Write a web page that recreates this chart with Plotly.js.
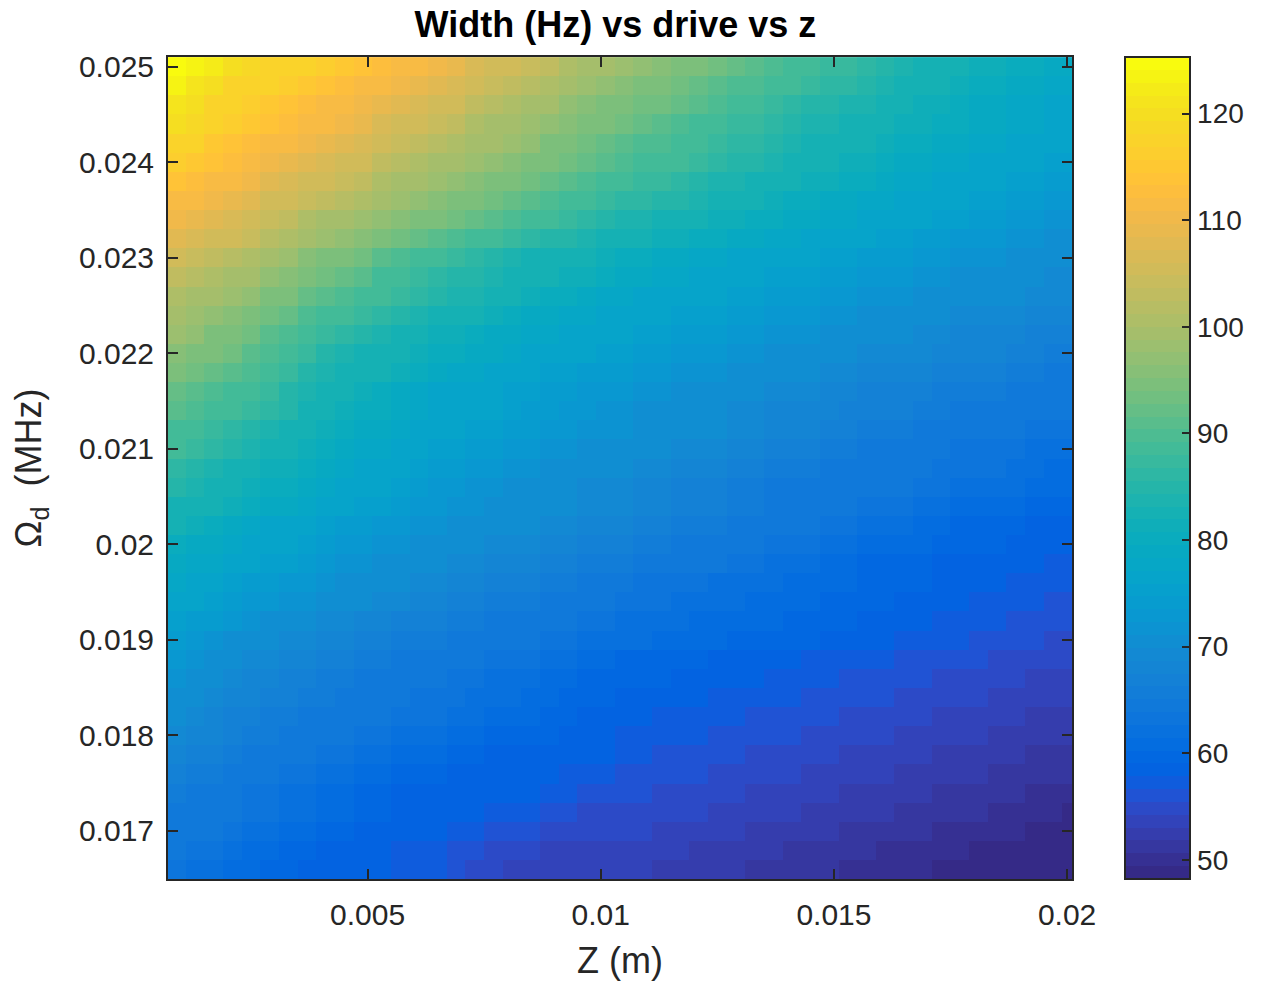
<!DOCTYPE html>
<html><head><meta charset="utf-8">
<script src="https://cdn.plot.ly/plotly-3.0.1.min.js"></script>
<style>html,body{margin:0;padding:0;background:#fff}#g{width:1264px;height:985px}</style>
</head><body><div id="g"></div>
<script>
const xTicks=[0.005,0.01,0.015,0.02];
const xLabels=['0.005','0.01','0.015','0.02'];
const yTicks=[0.017,0.018,0.019,0.02,0.021,0.022,0.023,0.024,0.025];
const yLabels=['0.017','0.018','0.019','0.02','0.021','0.022','0.023','0.024','0.025'];
const cTicks=[50,60,70,80,90,100,110,120];
const parula=[[0.2081,0.1663,0.5292],[0.2116,0.1898,0.5777],[0.2123,0.2138,0.6270],[0.2081,0.2386,0.6771],[0.1959,0.2645,0.7279],[0.1707,0.2919,0.7792],[0.1253,0.3242,0.8303],[0.0591,0.3598,0.8683],[0.0117,0.3875,0.8820],[0.0060,0.4086,0.8828],[0.0165,0.4266,0.8786],[0.0329,0.4430,0.8720],[0.0498,0.4586,0.8641],[0.0629,0.4737,0.8554],[0.0723,0.4887,0.8467],[0.0779,0.5040,0.8384],[0.0793,0.5200,0.8312],[0.0749,0.5375,0.8263],[0.0641,0.5570,0.8240],[0.0488,0.5772,0.8228],[0.0343,0.5966,0.8199],[0.0265,0.6137,0.8135],[0.0239,0.6287,0.8038],[0.0231,0.6418,0.7913],[0.0228,0.6535,0.7768],[0.0267,0.6642,0.7607],[0.0384,0.6743,0.7436],[0.0590,0.6838,0.7254],[0.0843,0.6928,0.7062],[0.1133,0.7015,0.6859],[0.1453,0.7098,0.6646],[0.1801,0.7177,0.6424],[0.2178,0.7250,0.6193],[0.2586,0.7317,0.5954],[0.3022,0.7376,0.5712],[0.3482,0.7424,0.5473],[0.3953,0.7459,0.5244],[0.4420,0.7481,0.5033],[0.4871,0.7491,0.4840],[0.5300,0.7491,0.4661],[0.5709,0.7485,0.4494],[0.6099,0.7473,0.4337],[0.6473,0.7456,0.4188],[0.6834,0.7435,0.4044],[0.7184,0.7411,0.3905],[0.7525,0.7384,0.3768],[0.7858,0.7356,0.3633],[0.8185,0.7327,0.3498],[0.8507,0.7299,0.3360],[0.8824,0.7274,0.3217],[0.9139,0.7258,0.3063],[0.9450,0.7261,0.2886],[0.9739,0.7314,0.2666],[0.9938,0.7455,0.2403],[0.9990,0.7653,0.2164],[0.9955,0.7861,0.1967],[0.9880,0.8066,0.1794],[0.9789,0.8271,0.1633],[0.9697,0.8481,0.1475],[0.9626,0.8705,0.1309],[0.9589,0.8949,0.1132],[0.9598,0.9218,0.0948],[0.9661,0.9514,0.0755],[0.9763,0.9831,0.0538]];
const widthHz=[
[125,123,122,120,119,118,118,117,116,115,114,113,112,111,110,109,107,106,105,104,103,101,100,99,98,97,96,95,94,93,92,91,90,89,88,87,87,86,85,84,83,83,82,81,81,80,80,79,79],
[123,121,120,118,118,117,116,115,114,113,112,111,110,109,108,107,105,104,103,102,101,99,98,97,96,95,94,93,92,91,90,90,89,88,87,86,86,85,84,83,82,82,81,80,80,79,79,78,78],
[121,120,118,117,116,115,114,113,112,111,110,109,108,107,106,105,103,102,101,100,99,97,96,95,94,93,93,92,91,90,89,88,87,86,85,85,84,84,83,82,81,81,80,79,79,78,78,77,77],
[120,119,117,116,115,114,113,112,111,110,109,107,106,105,104,103,101,100,99,98,97,96,95,94,93,92,91,90,89,88,87,87,86,85,84,84,83,83,82,81,81,80,80,79,79,78,78,77,77],
[118,117,115,114,113,112,111,110,109,108,107,105,104,103,102,101,100,99,98,97,95,94,93,92,91,90,90,89,88,87,86,86,85,84,83,83,82,82,81,80,80,79,79,78,78,77,77,76,76],
[116,115,114,113,112,110,109,108,107,106,105,103,102,101,100,99,98,97,96,95,94,93,92,91,90,89,89,88,87,86,85,85,84,83,82,82,81,81,80,79,79,78,78,77,77,76,76,75,75],
[114,113,112,111,110,108,107,106,105,104,103,101,100,99,98,97,96,95,94,93,92,91,90,89,88,87,87,86,85,84,84,83,83,82,81,81,80,80,79,78,78,77,77,76,76,75,75,74,74],
[112,111,110,109,108,106,105,104,103,102,101,99,98,97,96,95,94,93,92,91,90,89,88,87,86,86,85,85,84,83,82,82,81,80,80,79,79,78,78,77,77,76,76,75,75,74,74,73,73],
[110,109,108,107,106,104,103,101,100,99,98,97,96,95,94,93,92,91,90,89,88,87,86,85,84,84,83,83,82,81,81,80,80,79,79,78,78,77,77,76,76,75,75,74,74,73,73,72,72],
[108,107,106,105,104,102,101,99,98,97,96,94,93,92,91,90,89,88,87,86,85,85,84,83,82,82,81,81,80,80,79,79,78,78,77,77,76,76,75,75,74,74,73,73,73,72,72,71,71],
[105,104,103,102,101,99,98,96,95,94,93,91,90,89,88,87,86,85,84,83,83,82,82,81,80,80,79,79,78,78,77,77,76,76,76,75,75,74,74,74,73,73,72,72,72,71,71,70,70],
[103,102,101,100,99,97,96,94,93,92,91,89,88,87,86,85,85,84,83,82,82,81,81,80,79,79,78,78,77,77,76,76,75,75,75,74,74,73,73,73,72,72,71,71,71,70,70,69,69],
[101,100,99,98,97,95,94,92,91,90,89,88,87,86,85,84,84,83,82,81,80,80,79,78,78,77,77,76,76,76,75,75,74,74,74,73,73,72,72,72,71,71,70,70,70,70,69,69,69],
[99,98,97,96,95,93,92,90,89,88,87,86,85,84,83,82,82,81,80,79,79,78,78,77,77,76,76,75,75,75,74,74,73,73,73,72,72,71,71,71,70,70,69,69,69,69,68,68,68],
[98,97,95,94,93,91,90,88,87,86,85,84,83,82,81,81,80,79,79,78,78,77,77,76,76,75,75,74,74,74,73,73,72,72,72,71,71,70,70,70,69,69,68,68,68,68,67,67,67],
[96,95,94,93,91,90,88,87,85,84,83,83,82,81,80,80,79,79,78,77,77,76,76,75,75,74,74,73,73,73,72,72,71,71,71,70,70,69,69,69,69,68,68,68,68,67,67,66,66],
[94,93,92,91,90,88,87,85,84,83,82,82,81,80,79,78,78,77,76,76,75,75,74,74,74,73,73,72,72,72,71,71,70,70,70,69,69,68,68,68,68,67,67,67,67,66,66,65,65],
[92,91,90,89,88,87,85,84,83,82,81,80,79,78,77,77,76,76,75,75,74,74,73,73,73,72,72,71,71,71,70,70,69,69,69,68,68,67,67,67,67,66,66,66,66,65,65,64,64],
[91,90,89,88,87,86,85,83,82,81,80,80,79,78,77,77,76,76,75,74,74,73,73,72,72,71,71,70,70,70,69,69,68,68,68,68,67,67,67,67,66,66,65,65,65,65,64,64,64],
[89,88,87,86,85,84,83,82,81,80,79,79,78,77,76,76,75,75,74,74,73,73,72,72,72,71,71,70,70,70,69,69,68,68,68,67,67,66,66,66,65,65,64,64,64,64,63,63,63],
[88,87,86,85,84,83,82,81,80,79,78,78,77,76,75,75,74,74,73,73,72,72,71,71,71,70,70,69,69,69,68,68,67,67,67,66,66,65,65,65,64,64,63,63,63,63,62,62,62],
[86,85,84,83,82,81,81,80,79,78,77,77,76,75,74,74,73,73,72,72,71,71,70,70,70,69,69,68,68,68,67,67,66,66,66,65,65,64,64,64,64,63,63,63,63,62,62,61,61],
[85,84,83,82,81,80,80,79,78,77,76,76,75,74,73,73,72,72,71,71,70,70,69,69,69,68,68,67,67,67,66,66,65,65,65,65,64,64,64,64,63,63,62,62,62,62,61,61,61],
[83,82,82,81,80,79,79,78,77,76,75,75,74,73,73,72,72,71,71,71,70,70,69,69,69,68,68,67,67,67,66,66,65,65,65,64,64,63,63,63,62,62,61,61,61,61,60,60,60],
[82,81,80,79,78,77,77,76,75,74,74,73,73,72,72,71,71,70,70,70,69,69,68,68,68,67,67,66,66,66,65,65,64,64,64,63,63,62,62,62,61,61,60,60,60,60,59,59,59],
[80,79,79,78,77,76,76,75,74,73,73,72,72,71,71,70,70,69,69,69,68,68,67,67,67,66,66,65,65,65,64,64,63,63,63,62,62,61,61,61,61,60,60,60,60,59,59,58,58],
[79,78,78,77,76,75,75,74,73,72,72,71,71,70,70,69,69,68,68,68,67,67,66,66,66,65,65,64,64,64,63,63,62,62,62,61,61,60,60,60,60,59,59,59,59,58,58,57,57],
[78,77,76,75,74,74,73,73,72,71,71,70,70,69,69,68,68,67,67,67,66,66,65,65,64.0,63.7,63.4,63.1,62.8,62.5,62.2,61.9,61.6,61.3,61.0,60.7,60.4,60.1,59.8,59.5,59.2,58.9,58.6,58.3,58.0,57.7,57.4,57.1,56.8],
[77,76,75,74,73,73,72,72,71,70,70,69,69,68,68,67,67,66,66,66,65,65,64,64,63.3,63.0,62.7,62.4,62.1,61.8,61.5,61.2,61.0,60.7,60.4,60.1,59.8,59.5,59.2,58.9,58.6,58.3,58.0,57.7,57.4,57.1,56.8,56.5,56.2],
[75,74,74,73,72,71,71,70,69,69,68,68,67,67,67,66,66,65,65,65,64,64,63,63,62.6,62.3,62.0,61.7,61.4,61.1,60.8,60.6,60.3,60.0,59.7,59.4,59.1,58.8,58.5,58.2,57.9,57.6,57.3,57.0,56.7,56.5,56.2,55.9,55.6],
[74,73,72,71,70,70,69,69,68,68,67,67,66,66,66,65,65,64,64,64,63,63,62,62,62.0,61.7,61.4,61.1,60.8,60.5,60.2,59.9,59.6,59.4,59.1,58.8,58.5,58.2,57.9,57.6,57.3,57.0,56.7,56.4,56.1,55.8,55.5,55.2,55.0],
[73,72,71,70,69,69,68,68,67,67,66,66,65,65,65,64,64,63,63,63,62,62,61,61,60.2,59.9,59.7,59.4,59.2,59.0,58.7,58.5,58.2,58.0,57.7,57.5,57.3,57.0,56.8,56.5,56.3,56.0,55.8,55.6,55.3,55.1,54.8,54.6,54.4],
[72,71,70,69,68,68,67,67,66,66,65,65,64,64,64,63,63,62,62,62,61,61,60,60,59.6,59.3,59.1,58.8,58.6,58.3,58.1,57.9,57.6,57.4,57.1,56.9,56.6,56.4,56.2,55.9,55.7,55.4,55.2,54.9,54.7,54.5,54.2,54.0,53.7],
[71,70,69,68,68,67,67,66,66,65,65,64,64,63,63,63,62,62,62,61,61,60,60,60,58.9,58.7,58.5,58.2,58.0,57.7,57.5,57.2,57.0,56.8,56.5,56.3,56.0,55.8,55.5,55.3,55.1,54.8,54.6,54.3,54.1,53.9,53.6,53.4,53.1],
[70,69,68,67,67,66,66,65,65,65,64,64,63,63,63,62,62,61,61,61,60,60,59,59,58.3,58.1,57.8,57.6,57.4,57.1,56.9,56.6,56.4,56.1,55.9,55.7,55.4,55.2,54.9,54.7,54.4,54.2,54.0,53.7,53.5,53.2,53.0,52.8,52.5],
[69,68,68,67,66,66,65,65,64,64,63,63,62,62,62,61,61,60,60,60,60,59,59,59,57.7,57.5,57.2,57.0,56.7,56.5,56.3,56.0,55.8,55.5,55.3,55.0,54.8,54.6,54.3,54.1,53.8,53.6,53.3,53.1,52.9,52.6,52.4,52.1,51.9],
[68,67,67,66,65,65,64,64,63,63,62,62,61,61,61,60,60,59,59,59,59,58,58,58,57.1,56.9,56.6,56.4,56.1,55.9,55.6,55.4,55.1,54.9,54.7,54.4,54.2,53.9,53.7,53.4,53.2,53.0,52.7,52.5,52.2,52.0,51.8,51.5,51.3],
[67,66,66,65,64,64,63,63,62,62,61,61,60,60,60,59,59,58,58,58,58,57,57,57,56.5,56.2,56.0,55.8,55.5,55.3,55.0,54.8,54.5,54.3,54.0,53.8,53.6,53.3,53.1,52.8,52.6,52.4,52.1,51.9,51.6,51.4,51.1,50.9,50.7],
[66,65,65,64,63,63,62,62,61,61,60,60,59,59,59,59,58,58,58,58,57,57,56,56,55.9,55.6,55.4,55.1,54.9,54.7,54.4,54.2,53.9,53.7,53.4,53.2,53.0,52.7,52.5,52.2,52.0,51.7,51.5,51.3,51.0,50.8,50.5,50.3,50.1],
[65,65,64,64,63,63,62,62,61,61,60,60,59,59,59,58,58,57,57,57,56,56,55,55,55.3,55.0,54.8,54.5,54.3,54.0,53.8,53.6,53.3,53.1,52.8,52.6,52.3,52.1,51.9,51.6,51.4,51.1,50.9,50.7,50.4,50.2,49.9,49.7,49.4],
[65,64,64,63,62,62,61,61,60,60,59,59,58,58,58,57,57,56,56,56,55,55,55,55,54.6,54.4,54.1,53.9,53.6,53.4,53.2,52.9,52.7,52.4,52.2,51.9,51.7,51.5,51.2,51.0,50.7,50.5,50.3,50.0,49.8,49.6,49.4,49.1,48.9],
[64,63,63,62,61,61,60,60,59,59,58,58,57,57,57,56,56,55,55,55,54,54,54,54,54.0,53.8,53.5,53.3,53.0,52.8,52.6,52.3,52.1,51.8,51.6,51.3,51.1,50.9,50.6,50.4,50.1,49.9,49.7,49.4,49.2,49.0,48.8,48.5,48.3],
[63,62,62,61,61,60,60,59,59,59,58,58,57,57,57,56,55,55,54,54,54,54,54,54,53.4,53.2,52.9,52.7,52.4,52.2,52.0,51.7,51.5,51.2,51.0,50.7,50.5,50.3,50.0,49.8,49.5,49.3,49.1,48.8,48.6,48.4,48.3,48.3,48.3]
];
const ink='#262626';
const levels=parula.length;
const stepped=[];
parula.forEach((c,i)=>{
  const col=`rgb(${Math.round(c[0]*255)},${Math.round(c[1]*255)},${Math.round(c[2]*255)})`;
  stepped.push([i/levels,col]);stepped.push([(i+1)/levels,col]);
});
const trace={type:'heatmap',z:widthHz,x0:0.0009,dx:0.0004,y0:0.025,dy:-0.0002,
  zmin:48.2,zmax:125.3,zsmooth:false,colorscale:stepped,hoverinfo:'skip',
  colorbar:{thicknessmode:'pixels',thickness:65,lenmode:'fraction',len:1,y:0,yanchor:'bottom',
    x:1.0586,xanchor:'left',xpad:0,ypad:0,outlinewidth:2,outlinecolor:ink,
    tickmode:'array',tickvals:cTicks,ticktext:cTicks.map(String),ticks:'inside',ticklen:9,tickwidth:2,tickcolor:ink,
    tickprefix:'\u00a0',
    tickfont:{family:'Liberation Sans',size:28,color:ink}}};
const axisBase={showgrid:false,zeroline:false,showline:true,linewidth:2,linecolor:ink,mirror:'ticks',
  ticks:'inside',ticklen:10,tickwidth:2,tickcolor:ink,tickmode:'array',
  tickfont:{family:'Liberation Sans',size:30,color:ink}};
const layout={width:1264,height:985,paper_bgcolor:'#fff',plot_bgcolor:'#fff',
  margin:{l:168,r:192,t:57,b:106,pad:0,autoexpand:false},showlegend:false,
  title:{text:'<b>Width (Hz) vs drive vs z</b>',font:{family:'Liberation Sans',size:36,color:'#000'},x:0.4869,xanchor:'center',y:0.975,yanchor:'middle'},
  xaxis:Object.assign({},axisBase,{range:[0.000721,0.020105],tickvals:xTicks,ticktext:xLabels,ticklabelstandoff:8,
    title:{text:'Z (m)',font:{family:'Liberation Sans',size:36,color:ink},standoff:18}}),
  yaxis:Object.assign({},axisBase,{range:[0.016496,0.0251013],tickvals:yTicks,ticktext:yLabels,ticklabelstandoff:6,
    title:{text:'Ω<sub>d</sub>  (MHz)',font:{family:'Liberation Sans',size:36,color:ink},standoff:26}})
};
Plotly.newPlot('g',[trace],layout,{staticPlot:true,displayModeBar:false});
</script></body></html>
